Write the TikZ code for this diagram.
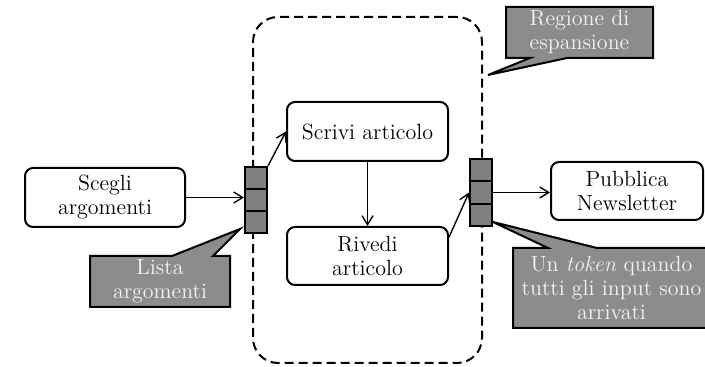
\documentclass[tikz,border=0pt]{standalone}
\usetikzlibrary{arrows.meta,calc,backgrounds}
\definecolor{calloutgray}{RGB}{140,140,140}
\definecolor{pingray}{RGB}{128,128,128}
\definecolor{calltext}{RGB}{242,242,242}
\begin{document}
\begin{tikzpicture}[x=0.5pt,y=-0.5pt, font=\fontsize{11}{12}\selectfont,
  box/.style={draw, line width=1pt, rounded corners=4pt, fill=white, align=center, inner sep=0pt},
  pincell/.style={draw, line width=1pt, fill=pingray, minimum width=11pt, minimum height=11.1pt, inner sep=0pt},
  flow/.style={line width=0.7pt, -{Straight Barb[length=4.5pt,width=5.5pt]}},
  note/.style={text=calltext, align=center, inner sep=0pt, outer sep=0pt},
  notebg/.style={fill=calloutgray, draw=black, line width=1pt, line join=miter},
  regionbox/.style={draw, line width=1pt, dash pattern=on 4.5pt off 2.5pt, rounded corners=12.5pt, inner sep=0pt, outer sep=0pt}]

\useasboundingbox (0,0) rectangle (705,367);

% expansion region
\node[regionbox, minimum width=114.5pt, minimum height=173pt] (reg) at (367.5,190) {};

% activity boxes
\node[box, minimum width=80pt, minimum height=29.5pt] (scegli) at (105,197.5) {Scegli\\argomenti};
\node[box, minimum width=80.5pt, minimum height=29.5pt] (scrivi) at (367.5,131.5) {Scrivi articolo};
\node[box, minimum width=80.5pt, minimum height=29pt] (rivedi) at (367.5,256) {Rivedi\\articolo};
\node[box, minimum width=76pt, minimum height=29pt] (pubblica) at (627,191) {Pubblica\\Newsletter};

% pins
\node[pincell] (pl1) at (256,178) {};
\node[pincell] (pl2) at (256,200) {};
\node[pincell] (pl3) at (256,222) {};
\node[pincell] (pr1) at (481,170.3) {};
\node[pincell] (pr2) at (481,192.5) {};
\node[pincell] (pr3) at (481,214.7) {};

% flows
\draw[flow] (scegli.east) -- (scegli.east -| pl2.west);
\draw[flow] (pl1.north east) -- (scrivi.west);
\draw[flow] (scrivi) -- (rivedi);
\draw[flow] (rivedi.13) -- (pr2.west);
\draw[flow] (pr2.east) -- (pr2.east -| pubblica.west);

% callouts
\node[note, minimum width=70pt, minimum height=25.5pt] (lista) at (160,281.5) {Lista\\argomenti};
\coordinate (listatip) at (240,229);
\node[note, minimum width=73.5pt, minimum height=25.5pt] (regione) at (579.5,32.5) {Regione di\\espansione};
\coordinate (regionetip) at (488,75);
\node[note, minimum width=98.5pt, minimum height=40pt] (token) at (611.5,288) {Un \textit{token} quando\\tutti gli input sono\\arrivati};
\coordinate (tokentip) at (493,222);

\begin{pgfonlayer}{background}
\fill[white] (0,0) rectangle (705,367);
\draw[notebg] (lista.north west) -- ($(lista.north west)+(82,0)$) -- (listatip)
  -- ($(lista.north west)+(123,0)$) -- (lista.north east) -- (lista.south east)
  -- (lista.south west) -- cycle;
\draw[notebg] (regione.north west) -- (regione.north east) -- (regione.south east)
  -- ($(regione.south west)+(61,0)$) -- (regionetip) -- ($(regione.south west)+(24,0)$)
  -- (regione.south west) -- cycle;
\draw[notebg] (token.north west) -- ($(token.north west)+(35,0)$) -- (tokentip)
  -- ($(token.north west)+(84,0)$) -- (token.north east) -- (token.south east)
  -- (token.south west) -- cycle;
\end{pgfonlayer}
\end{tikzpicture}
\end{document}
